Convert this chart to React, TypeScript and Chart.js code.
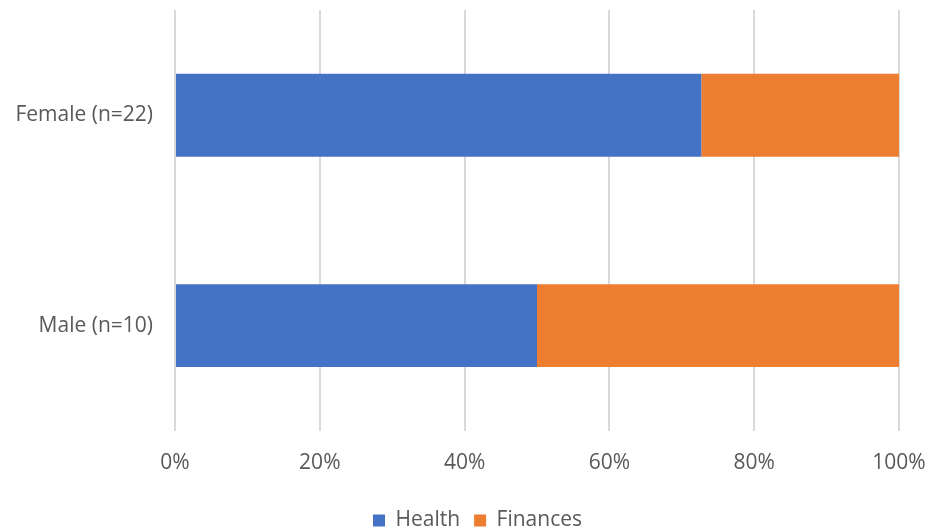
import React, { useEffect, useRef } from "react";
import { Chart, registerables } from "chart.js";

Chart.register(...registerables);

const categories = ["Female (n=22)", "Male (n=10)"];
const healthValues = [72.7, 50];
const financesValues = [27.3, 50];
const xTicks = [0, 20, 40, 60, 80, 100];

const FONT = "'Open Sans', 'Noto Sans', sans-serif";
const TEXT = "#595959";

const shiftLegend = {
  id: "shiftLegend",
  afterLayout(chart: any) {
    const lg = chart.legend;
    if (lg) {
      lg.left += 28;
      lg.right += 28;
    }
  },
};

export default function App() {
  const ref = useRef<HTMLCanvasElement | null>(null);
  useEffect(() => {
    document.body.style.margin = "0";
    document.body.style.overflow = "hidden";
    const canvas = ref.current!;
    const chart = new Chart(canvas, {
      type: "bar",
      data: {
        labels: categories,
        datasets: [
          {
            label: "Health",
            data: healthValues,
            backgroundColor: "#4472C4",
            barPercentage: 0.394,
            categoryPercentage: 1,
          },
          {
            label: "Finances",
            data: financesValues,
            backgroundColor: "#ED7D31",
            barPercentage: 0.394,
            categoryPercentage: 1,
          },
        ],
      },
      plugins: [shiftLegend],
      options: {
        indexAxis: "y",
        responsive: false,
        animation: false,
        layout: { padding: { top: 10, right: 34, left: 0, bottom: 0 } },
        scales: {
          x: {
            stacked: true,
            min: 0,
            max: 100,
            afterBuildTicks: (s: any) => {
              s.ticks = xTicks.map((v) => ({ value: v }));
            },
            afterFit: (s: any) => {
              s.paddingLeft = 0;
              s.paddingRight = 0;
            },
            ticks: {
              callback: (v: any) => v + "%",
              color: TEXT,
              font: { family: FONT, size: 21 },
              padding: 20,
              maxRotation: 0,
            },
            grid: { color: "#d9d9d9", lineWidth: 2, drawTicks: false },
            border: { display: false },
          },
          y: {
            stacked: true,
            afterFit: (s: any) => {
              s.width = 175;
              s.paddingTop = 0;
              s.paddingBottom = 0;
            },
            ticks: {
              color: TEXT,
              font: { family: FONT, size: 21 },
              padding: 22,
            },
            grid: { display: false, drawTicks: false },
            border: { display: false },
          },
        },
        plugins: {
          legend: {
            position: "bottom",
            labels: {
              color: TEXT,
              font: { family: FONT, size: 21 },
              boxWidth: 12,
              boxHeight: 12,
              padding: 14,
            },
          },
          tooltip: { enabled: false },
        },
      },
    } as any);
    return () => chart.destroy();
  }, []);
  return <canvas ref={ref} width={933} height={541} style={{ display: "block" }} />;
}
